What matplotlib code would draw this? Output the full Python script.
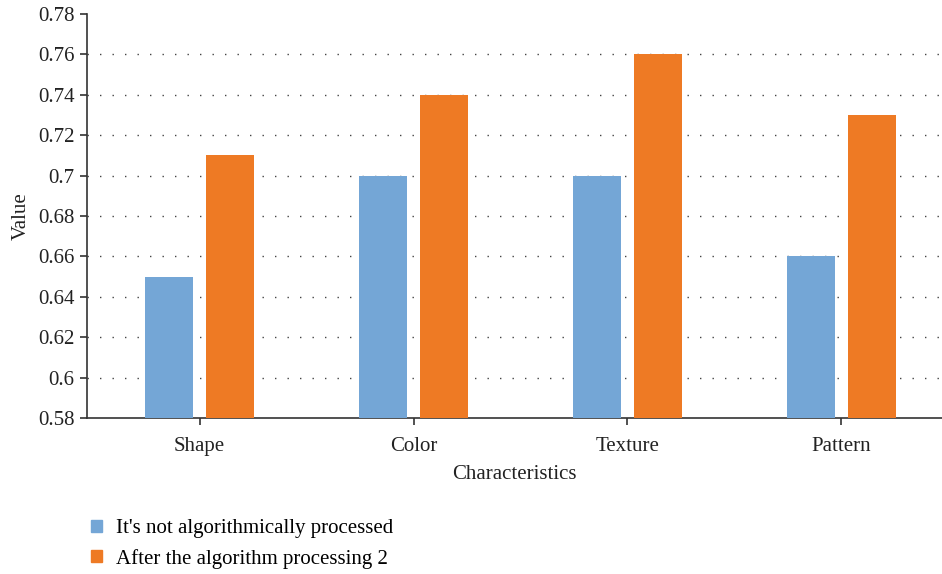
import matplotlib
matplotlib.use('Agg')
import matplotlib.pyplot as plt
from matplotlib.patches import Patch
import numpy as np

# chart data
categories = ['Shape', 'Color', 'Texture', 'Pattern']
not_processed = [0.65, 0.70, 0.70, 0.66]
processed_2 = [0.71, 0.74, 0.76, 0.73]
series_names = ["It's not algorithmically processed", 'After the algorithm processing 2']
y_ticks = [0.58, 0.6, 0.62, 0.64, 0.66, 0.68, 0.7, 0.72, 0.74, 0.76, 0.78]
y_labels = ['0.58', '0.6', '0.62', '0.64', '0.66', '0.68', '0.7', '0.72', '0.74', '0.76', '0.78']

BLUE = '#74a6d6'
ORANGE = '#ee7a24'
AXIS = '#333333'
FS = 15

plt.rcParams['font.family'] = ['Liberation Serif', 'DejaVu Serif']
plt.rcParams['font.size'] = FS

fig = plt.figure(figsize=(9.42, 5.74), dpi=100)
ax = fig.add_axes([0.0924, 0.2718, 0.9076, 0.7038])

x = np.arange(len(categories))
width = 0.224
offset = 0.1425
ax.bar(x - offset, not_processed, width, color=BLUE, zorder=3)
ax.bar(x + offset, processed_2, width, color=ORANGE, zorder=3)

ax.set_ylim(0.58, 0.78)
ax.set_xlim(-0.526, 3.47)
ax.set_yticks(y_ticks)
ax.set_yticklabels(y_labels)
ax.set_xticks(x)
ax.set_xticklabels(categories)

# dotted horizontal grid, skip top line
for yv in y_ticks[1:-1]:
    ax.axhline(yv, color='#444444', linestyle=(0, (1, 8)), linewidth=1.0, zorder=1)

for side in ['top', 'right']:
    ax.spines[side].set_visible(False)
for side in ['left', 'bottom']:
    ax.spines[side].set_color(AXIS)
    ax.spines[side].set_linewidth(1.2)
ax.tick_params(axis='both', colors=AXIS, length=5, width=1.2, labelcolor='#222222', labelsize=FS)
ax.tick_params(axis='x', pad=9)
ax.tick_params(axis='y', pad=4)

ax.set_ylabel('Value', fontsize=FS, color='#222222', labelpad=5)
ax.set_xlabel('Characteristics', fontsize=FS, color='#222222', labelpad=6)

handles = [Patch(color=BLUE), Patch(color=ORANGE)]
fig.legend(handles, series_names, loc='upper left', bbox_to_anchor=(0.097, 0.095),
           frameon=False, handlelength=0.5, handleheight=0.5, handletextpad=0.7,
           labelspacing=0.5, fontsize=FS, borderaxespad=0, borderpad=0)

fig.savefig('out.png', dpi=100)
